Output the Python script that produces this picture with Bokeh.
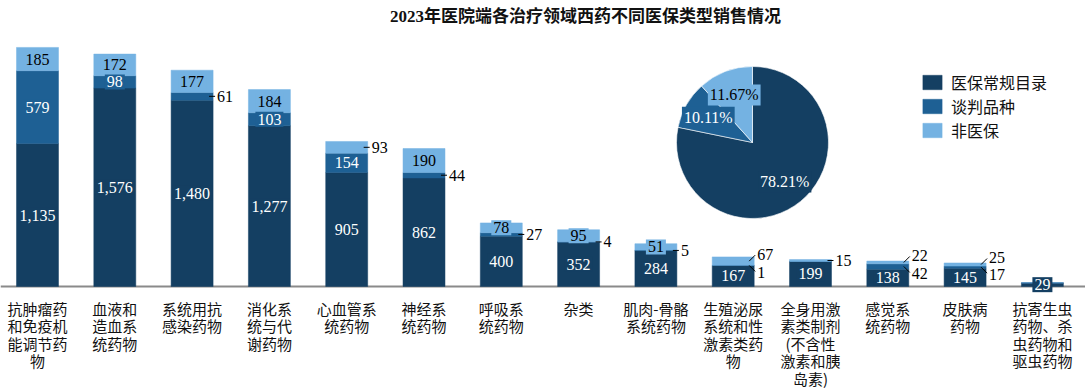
import math
from bokeh.plotting import figure
from bokeh.models import ColumnDataSource, Legend, LegendItem, Label, Span
from bokeh.core.properties import value
from bokeh.embed import file_html
from bokeh.resources import INLINE

# ---------------- data ----------------
title_text = "2023年医院端各治疗领域西药不同医保类型销售情况"
categories = [
    "抗肿瘤药\n和免疫机\n能调节药\n物",
    "血液和\n造血系\n统药物",
    "系统用抗\n感染药物",
    "消化系\n统与代\n谢药物",
    "心血管系\n统药物",
    "神经系\n统药物",
    "呼吸系\n统药物",
    "杂类",
    "肌肉-骨骼\n系统药物",
    "生殖泌尿\n系统和性\n激素类药\n物",
    "全身用激\n素类制剂\n(不含性\n激素和胰\n岛素)",
    "感觉系\n统药物",
    "皮肤病\n药物",
    "抗寄生虫\n药物、杀\n虫药物和\n驱虫药物",
]
series_names = ["医保常规目录", "谈判品种", "非医保"]
regular = [1135, 1576, 1480, 1277, 905, 862, 400, 352, 284, 167, 199, 138, 145, 29]
negotiated = [579, 98, 61, 103, 154, 44, 27, 4, 5, 1, 0, 42, 17, 0]
non_insured = [185, 172, 177, 184, 93, 190, 78, 95, 51, 67, 15, 22, 25, 0]
pie_shares = [78.21, 10.11, 11.67]

# ---------------- styles ----------------
colors = ["#143F62", "#1E6094", "#74B2E2"]
text_cols = ["white", "white", "black"]
place = [
    ["in"] * 14,
    ["in", "in", "right", "in", "in", "right", "right", "right", "right", "down", None, "down", "down", None],
    ["in", "in", "in", "in", "right", "in", "in", "in", "in", "up", "right", "up", "up", None],
]
NUM_FONT = value("Liberation Serif")
CJK_FONT = "Noto Sans CJK SC"

W, H = 1085, 389
PAGE0 = 0
C0, PITCH = 37.0, 77.3          # page x of first bar centre, px between bars
BASE, PPU = 286.0, 0.1259        # page y of baseline, px per unit
BAR_W = 0.543

x_start = (PAGE0 - C0) / PITCH
x_end = (PAGE0 + W - C0) / PITCH
y_end = (BASE - PAGE0) / PPU
y_start = -(PAGE0 + H - BASE) / PPU
pxx = (x_end - x_start) / W
pxy = (y_end - y_start) / H

p = figure(width=W, height=H, x_range=(x_start, x_end), y_range=(y_start, y_end),
           output_backend="svg", toolbar_location=None,
           x_axis_location=None, y_axis_location=None,
           min_border=0, min_border_left=0, min_border_right=0,
           min_border_top=0, min_border_bottom=0)
p.grid.visible = False
p.outline_line_color = None
p.background_fill_color = "white"

xs = list(range(len(categories)))
src = ColumnDataSource(dict(x=xs, reg=regular, neg=negotiated, non=non_insured))
rs = p.vbar_stack(["reg", "neg", "non"], x="x", width=BAR_W, color=colors,
                  line_color=colors, line_width=0.5, source=src)

base_line = Span(location=0, dimension="width", line_color="#8a8a8a", line_width=2, level="underlay")
p.add_layout(base_line)

# ---------------- segment labels ----------------
series = [regular, negotiated, non_insured]
hw = BAR_W / 2
for s, vals in enumerate(series):
    in_d = dict(x=[], y=[], t=[])
    out_d = dict(x=[], y=[], t=[])
    seg = dict(x0=[], y0=[], x1=[], y1=[])
    for i, v in enumerate(vals):
        pl = place[s][i]
        if pl is None:
            continue
        bottom = sum(series[k][i] for k in range(s))
        yc = bottom + v / 2
        txt = f"{v:,}"
        if pl == "in":
            in_d["x"].append(i); in_d["y"].append(yc); in_d["t"].append(txt)
        else:
            edge = i + hw
            if pl == "right":
                seg["x0"].append(edge - 4 * pxx); seg["y0"].append(yc)
                seg["x1"].append(edge + 2 * pxx); seg["y1"].append(yc)
                out_d["x"].append(edge + 4 * pxx); out_d["y"].append(yc)
            else:
                sg = 1 if pl == "up" else -1
                seg["x0"].append(edge - 5 * pxx); seg["y0"].append(yc)
                seg["x1"].append(edge + 1 * pxx); seg["y1"].append(yc + sg * 6 * pxy)
                out_d["x"].append(edge + 3 * pxx); out_d["y"].append(yc + sg * 7 * pxy)
            out_d["t"].append(txt)
    p.text(x="x", y="y", text="t", source=ColumnDataSource(in_d),
           text_align="center", text_baseline="middle", text_font=NUM_FONT,
           text_font_size="16px", text_color=text_cols[s],
           background_fill_color=colors[s], padding=2)
    if out_d["x"]:
        p.segment(x0="x0", y0="y0", x1="x1", y1="y1", source=ColumnDataSource(seg),
                  line_color="black", line_width=1)
        p.text(x="x", y="y", text="t", source=ColumnDataSource(out_d),
               text_align="left", text_baseline="middle", text_font=NUM_FONT,
               text_font_size="16px", text_color="black")

# ---------------- category labels ----------------
p.text(x=xs, y=[0] * len(xs), text=categories, y_offset=11,
       text_align="center", text_baseline="top", text_font=value(CJK_FONT),
       text_font_size="15px", text_line_height=0.84, text_color="#111111")

# ---------------- pie ----------------
PIE_CX, PIE_CY, PIE_R = 752.0, 142.0, 76
pcx = (PIE_CX - C0) / PITCH
pcy = (BASE - PIE_CY) / PPU
cum = 0.0
starts, ends, mids = [], [], []
for sh in pie_shares:
    a_hi = math.pi / 2 - cum / 100 * 2 * math.pi
    cum += sh
    a_lo = math.pi / 2 - cum / 100 * 2 * math.pi
    starts.append(a_lo); ends.append(a_hi); mids.append((a_lo + a_hi) / 2)
pie_src = ColumnDataSource(dict(x=[pcx] * 3, y=[pcy] * 3, s=starts, e=ends, c=colors))
p.wedge(x="x", y="y", radius=PIE_R, radius_units="screen", start_angle="s", end_angle="e",
        direction="anticlock", fill_color="c", line_color="white", line_width=0.6, source=pie_src)
lab_r = 0.67 * PIE_R
pie_lab = ColumnDataSource(dict(
    x=[pcx] * 3, y=[pcy] * 3,
    xo=[lab_r * math.cos(m) for m in mids], yo=[-lab_r * math.sin(m) for m in mids],
    t=[f"{v:.2f}%" for v in pie_shares], c=colors, tc=text_cols))
p.text(x="x", y="y", x_offset="xo", y_offset="yo", text="t", source=pie_lab,
       text_align="center", text_baseline="middle", text_font=NUM_FONT,
       text_font_size="16px", text_color="tc", background_fill_color="c", padding=2)

# ---------------- legend ----------------
legend = Legend(items=[LegendItem(label=n, renderers=[r]) for n, r in zip(series_names, rs)],
                location=(920, 247), orientation="vertical",
                glyph_width=24, glyph_height=18, label_height=18, spacing=0,
                label_standoff=7, label_text_font=CJK_FONT, label_text_font_size="16px",
                label_text_color="#111111", padding=0, margin=0,
                background_fill_alpha=0, border_line_alpha=0)
p.add_layout(legend)

# ---------------- title ----------------
p.add_layout(Label(x=585, y=H - 16, x_units="screen", y_units="screen", text=title_text,
                   text_align="center", text_baseline="middle",
                   text_font="Liberation Serif, Noto Sans CJK SC", text_font_style="bold",
                   text_font_size="17px", text_color="#111111"))

open("out.html", "w").write(file_html(p, INLINE))
